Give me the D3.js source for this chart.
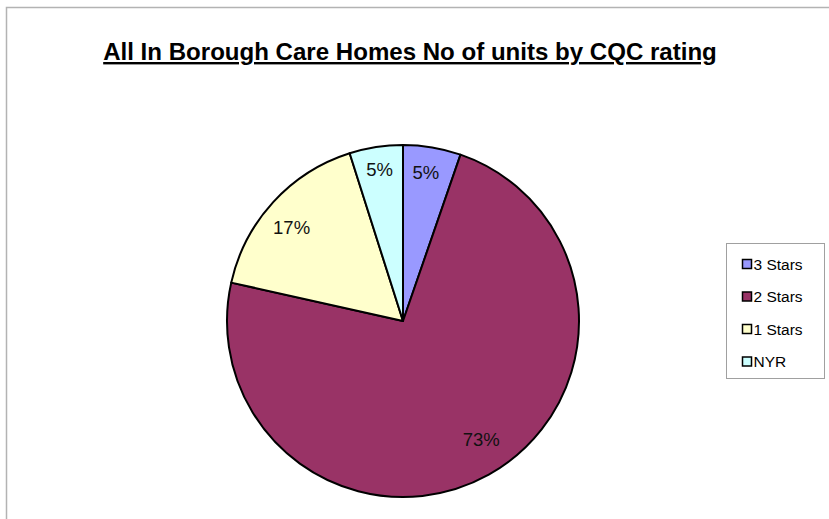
<!DOCTYPE html>
<html>
<head>
<meta charset="utf-8">
<script src="https://cdn.jsdelivr.net/npm/d3@7"></script>
<style>
  body { margin: 0; background: #fff; }
  text { font-family: "Liberation Sans", Arial, sans-serif; }
</style>
</head>
<body>
<div id="chart"></div>
<script>
// data (share of units, %)
var categories = ["3 Stars", "2 Stars", "1 Stars", "NYR"];
var values = [5.3, 73.2, 16.6, 4.9];
var labels = ["5%", "73%", "17%", "5%"];
var colors = ["#9999ff", "#993366", "#ffffcc", "#ccffff"];

var width = 829, height = 519;

var svg = d3.select("#chart")
  .append("svg")
    .attr("width", width)
    .attr("height", height);

// outer chart frame
svg.append("rect")
  .attr("x", 6.5).attr("y", 7.5)
  .attr("width", width + 10).attr("height", height + 10)
  .attr("fill", "#fff")
  .attr("stroke", "#b3b3b3")
  .attr("stroke-width", 1.5);

// title
var title = svg.append("text")
  .attr("x", 410).attr("y", 60)
  .attr("text-anchor", "middle")
  .attr("font-size", 20)
  .attr("font-weight", "bold")
  .attr("text-decoration", "underline")
  .text("All In Borough Care Homes No of units by CQC rating");
var tw = title.node().getComputedTextLength();
title.attr("font-size", 20 * 614 / tw);

// pie
var cx = 403, cy = 321, r = 176;
var g = svg.append("g")
  .attr("transform", "translate(" + cx + "," + cy + ")");

var pie = d3.pie().sort(null).value(function(d) { return d; });
var arcs = pie(values);
var arc = d3.arc().innerRadius(0).outerRadius(r);

g.selectAll("path")
  .data(arcs)
  .enter().append("path")
    .attr("d", arc)
    .attr("fill", function(d, i) { return colors[i]; })
    .attr("stroke", "#000")
    .attr("stroke-width", 2)
    .attr("stroke-linejoin", "round");

// label placement inside the slices
var labelR = [150, 142, 147, 152];
var nudgeX = [-2, 9, -3, 0];
var nudgeY = [-1, -5, 6, -1];
g.selectAll("text.lbl")
  .data(arcs)
  .enter().append("text")
    .attr("class", "lbl")
    .attr("transform", function(d, i) {
      var a = (d.startAngle + d.endAngle) / 2;
      return "translate(" + (Math.sin(a) * labelR[i] + nudgeX[i]) + "," + (-Math.cos(a) * labelR[i] + nudgeY[i]) + ")";
    })
    .attr("text-anchor", "middle")
    .attr("dy", "0.35em")
    .attr("font-size", 18.5)
    .attr("fill", "#111")
    .text(function(d, i) { return labels[i]; });

// legend
var legend = svg.append("g").attr("transform", "translate(726.5,243.5)");
legend.append("rect")
  .attr("width", 98).attr("height", 135)
  .attr("fill", "#fff")
  .attr("stroke", "#a0a0a0")
  .attr("stroke-width", 1);

var item = legend.selectAll("g.item")
  .data(categories)
  .enter().append("g")
    .attr("class", "item")
    .attr("transform", function(d, i) { return "translate(0," + (21 + i * 32.5) + ")"; });

item.append("rect")
  .attr("x", 16).attr("y", -5)
  .attr("width", 9).attr("height", 9)
  .attr("fill", function(d, i) { return colors[i]; })
  .attr("stroke", "#000")
  .attr("stroke-width", 1.5);

item.append("text")
  .attr("x", 27).attr("y", 0)
  .attr("dy", "0.35em")
  .attr("font-size", 15.5)
  .text(function(d) { return d; });
</script>
</body>
</html>
